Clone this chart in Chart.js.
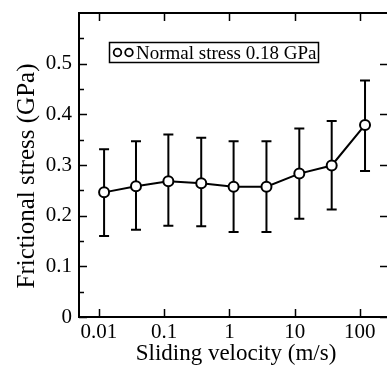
<!DOCTYPE html>
<html>
<head>
<meta charset="utf-8">
<script src="https://cdn.jsdelivr.net/npm/chart.js@4"></script>
<style>
  html, body { margin: 0; padding: 0; background: #fff; overflow: hidden; }
  #wrap { width: 395px; height: 365px; }
</style>
</head>
<body>
<div id="wrap"><canvas id="chart" width="395" height="365"></canvas></div>
<script>
// data
const velocity = [0.012, 0.037, 0.116, 0.37, 1.16, 3.7, 11.8, 37, 120];
const stress   = [0.246, 0.258, 0.268, 0.264, 0.257, 0.257, 0.283, 0.299, 0.379];
const errHigh  = [0.331, 0.347, 0.360, 0.354, 0.347, 0.347, 0.372, 0.387, 0.467];
const errLow   = [0.160, 0.172, 0.180, 0.179, 0.168, 0.168, 0.194, 0.212, 0.288];

const xTicks = [0.01, 0.1, 1, 10, 100];
const yTicks = [0, 0.1, 0.2, 0.3, 0.4, 0.5];
const yMinor = [0.05, 0.15, 0.25, 0.35, 0.45, 0.55];

const seriesLabel = "Normal stress 0.18 GPa";
const xTitle = "Sliding velocity (m/s)";
const yTitle = "Frictional stress (GPa)";

const serif = "'Liberation Serif', 'Times New Roman', serif";

// error bars under the points
const errorBars = {
  id: 'errorBars',
  beforeDatasetsDraw(chart) {
    const { ctx, scales: { x, y } } = chart;
    ctx.save();
    ctx.strokeStyle = '#000';
    ctx.lineWidth = 2;
    velocity.forEach((v, i) => {
      const px = x.getPixelForValue(v);
      const top = y.getPixelForValue(errHigh[i]);
      const bot = y.getPixelForValue(errLow[i]);
      ctx.beginPath();
      ctx.moveTo(px, top); ctx.lineTo(px, bot);
      ctx.moveTo(px - 5, top); ctx.lineTo(px + 5, top);
      ctx.moveTo(px - 5, bot); ctx.lineTo(px + 5, bot);
      ctx.stroke();
    });
    ctx.restore();
  }
};

// frame, inward ticks, titles, legend box
const frame = {
  id: 'frame',
  afterDraw(chart) {
    const { ctx, chartArea: a, scales: { x, y } } = chart;
    ctx.save();
    ctx.strokeStyle = '#000';
    ctx.lineWidth = 2;
    ctx.strokeRect(a.left, a.top, a.right - a.left, a.bottom - a.top);

    ctx.lineWidth = 1.5;
    ctx.beginPath();
    xTicks.forEach(v => {
      const px = Math.round(x.getPixelForValue(v)) + 0.5;
      ctx.moveTo(px, a.bottom); ctx.lineTo(px, a.bottom - 8);
      ctx.moveTo(px, a.top); ctx.lineTo(px, a.top + 8);
    });
    yTicks.forEach(v => {
      const py = Math.round(y.getPixelForValue(v)) + 0.5;
      ctx.moveTo(a.left, py); ctx.lineTo(a.left + 8, py);
      ctx.moveTo(a.right, py); ctx.lineTo(a.right - 8, py);
    });
    yMinor.forEach(v => {
      const py = Math.round(y.getPixelForValue(v)) + 0.5;
      ctx.moveTo(a.left, py); ctx.lineTo(a.left + 5, py);
    });
    ctx.stroke();

    // axis titles
    ctx.fillStyle = '#000';
    ctx.font = "23px " + serif;
    ctx.textAlign = 'center';
    ctx.textBaseline = 'alphabetic';
    ctx.fillText(xTitle, 236, 360);

    ctx.save();
    ctx.translate(27, 176);
    ctx.rotate(-Math.PI / 2);
    ctx.font = "25px " + serif;
    ctx.textBaseline = 'middle';
    ctx.fillText(yTitle, 0, 0);
    ctx.restore();

    // legend
    ctx.lineWidth = 1.5;
    ctx.strokeRect(109.5, 42.5, 209, 20);
    ctx.fillStyle = '#fff';
    ctx.lineWidth = 1.8;
    [117.5, 129].forEach(cx => {
      ctx.beginPath();
      ctx.arc(cx, 52.5, 3.8, 0, Math.PI * 2);
      ctx.fill(); ctx.stroke();
    });
    ctx.fillStyle = '#000';
    ctx.font = "19px " + serif;
    ctx.textAlign = 'left';
    ctx.textBaseline = 'alphabetic';
    ctx.fillText(seriesLabel, 136, 59);
    ctx.restore();
  }
};

function noPad(s) {
  s.paddingLeft = 0; s.paddingRight = 0;
  s.paddingTop = 0; s.paddingBottom = 0;
}

new Chart(document.getElementById('chart'), {
  type: 'line',
  data: {
    datasets: [{
      label: seriesLabel,
      data: velocity.map((v, i) => ({ x: v, y: stress[i] })),
      borderColor: '#000',
      borderWidth: 2,
      pointRadius: 5,
      pointBorderWidth: 2,
      pointBackgroundColor: '#fff',
      pointBorderColor: '#000',
      tension: 0
    }]
  },
  options: {
    responsive: false,
    animation: false,
    devicePixelRatio: 1,
    layout: { padding: { top: 13, right: 2, left: 0, bottom: 0 } },
    plugins: { legend: { display: false }, tooltip: { enabled: false } },
    scales: {
      x: {
        type: 'logarithmic',
        min: 0.00495,
        max: 270,
        grid: { display: false, drawTicks: false },
        border: { display: false },
        afterBuildTicks: s => { s.ticks = xTicks.map(v => ({ value: v })); },
        afterFit: s => { s.height = 48; noPad(s); },
        ticks: {
          color: '#000',
          padding: 3,
          maxRotation: 0,
          autoSkip: false,
          font: { family: serif, size: 21 },
          callback: v => String(v)
        }
      },
      y: {
        min: 0,
        max: 0.6,
        grid: { display: false, drawTicks: false },
        border: { display: false },
        afterBuildTicks: s => { s.ticks = yTicks.map(v => ({ value: v })); },
        afterFit: s => { s.width = 79; noPad(s); },
        ticks: {
          color: '#000',
          padding: 7,
          font: { family: serif, size: 21 },
          callback: v => v === 0 ? '0' : v.toFixed(1)
        }
      }
    }
  },
  plugins: [errorBars, frame]
});
</script>
</body>
</html>
